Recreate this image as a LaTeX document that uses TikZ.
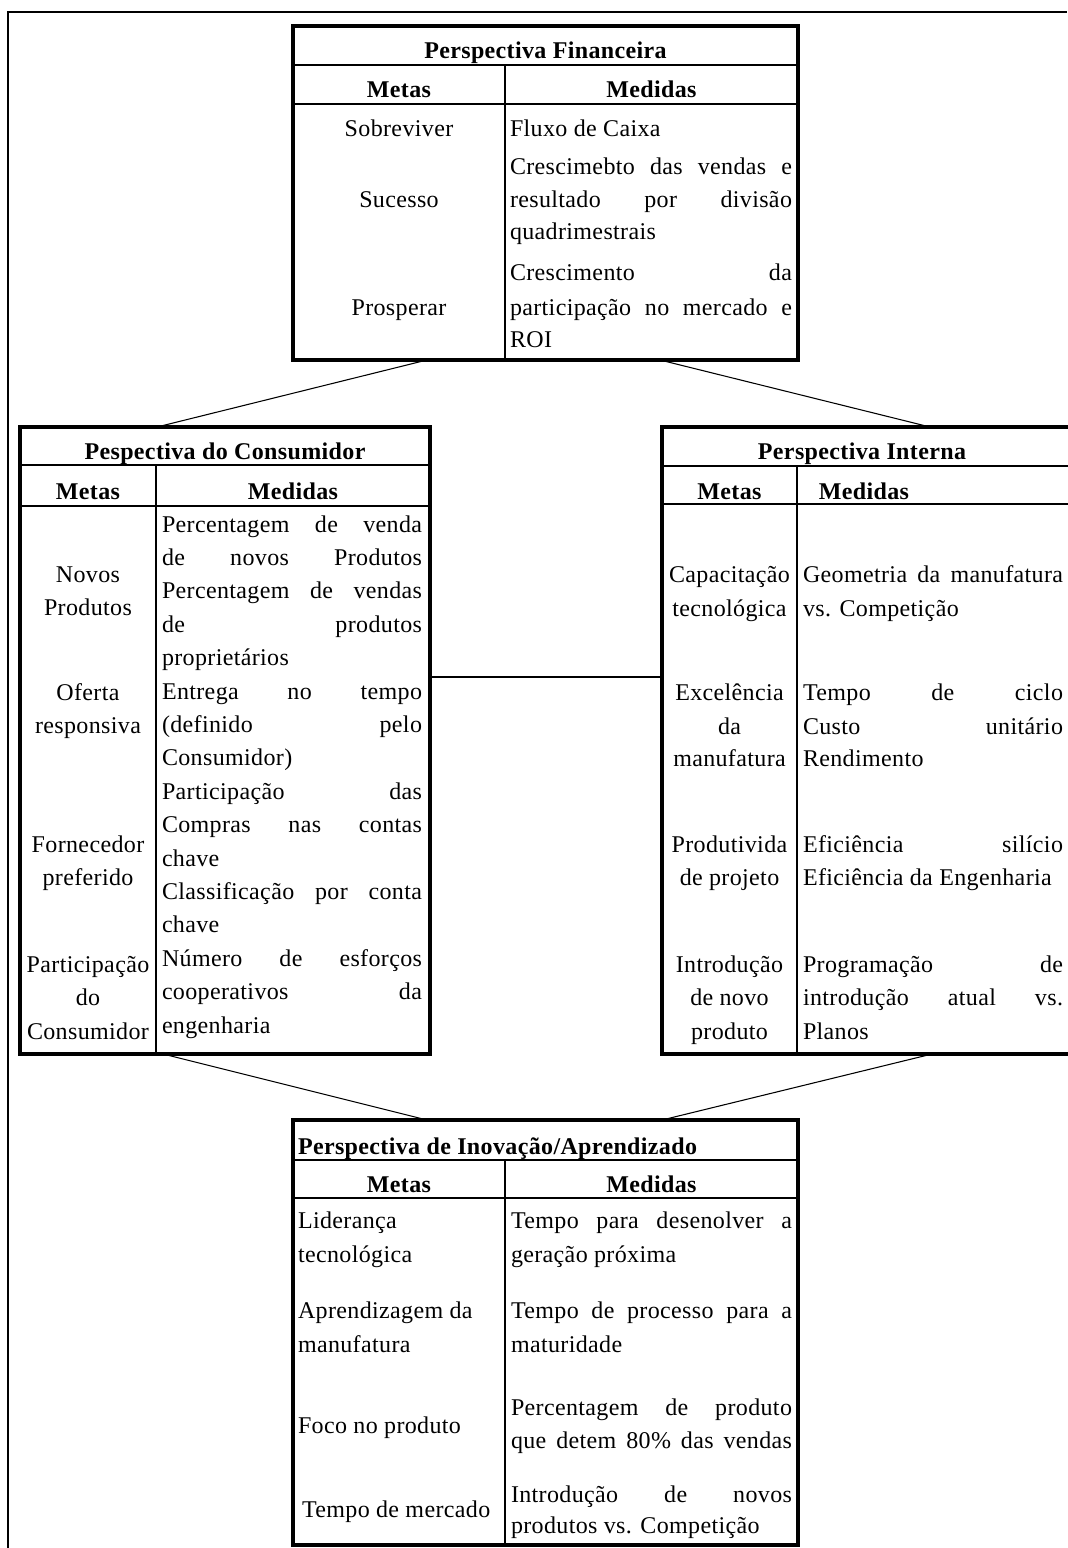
\documentclass[tikz,border=0pt]{standalone}
\usepackage{fontspec}
\setmainfont{Liberation Serif}[LetterSpace=1.5]
\usetikzlibrary{calc}
\newlength\pxu \setlength\pxu{0.75pt}
\tikzset{
  txt/.style={inner sep=0pt, outer sep=0pt, font=\fontsize{18}{20}\selectfont},
  hd/.style={inner sep=0pt, outer sep=0pt, font=\fontsize{18}{20}\selectfont\bfseries},
  tbl/.style={draw, line width=2.4pt, inner sep=0pt, outer sep=0pt, rectangle},
  gridline/.style={line width=2.1pt},
  conn/.style={line width=0.8pt},
  hconn/.style={line width=1.5pt},
  frameline/.style={line width=2.1pt}
}
\newcommand\Lt[4]{\node[txt, anchor=base west] (#1) at (#2,#3) {#4};}
\newcommand\Ct[4]{\node[txt, anchor=base] (#1) at (#2,#3) {#4};}
\newcommand\Jt[5]{\node[txt, anchor=base west] (#1) at (#2,#3) {\makebox[#4\pxu][s]{#5}};}
\newcommand\Hd[4]{\node[hd, anchor=base] (#1) at (#2,#3) {#4};}
\begin{document}
\begin{tikzpicture}[x=0.75pt, y=-0.75pt]
\useasboundingbox (0,0) rectangle (1067,1548);
% outer frame
\draw[frameline] (8,1548) -- (8,12) -- (1067,12);

% ---------- Perspectiva Financeira ----------
\node[tbl, anchor=north west, minimum width=505\pxu, minimum height=334\pxu] (fin) at (293,26) {};
\draw[gridline] (293,65) -- (798,65);
\draw[gridline] (293,104) -- (798,104);
\draw[gridline] (505,65) -- (505,360);
\Hd{ft}{545.5}{59}{Perspectiva Financeira}
\Hd{fm}{399}{98}{Metas}
\Hd{fd}{651.5}{98}{Medidas}
\Ct{fa1}{399}{137}{Sobreviver}
\Ct{fa2}{399}{208}{Sucesso}
\Ct{fa3}{399}{315}{Prosperar}
\Lt{fb1}{510}{137}{Fluxo de Caixa}
\Jt{fb2}{510}{175}{282}{Crescimebto das vendas e}
\Jt{fb3}{510}{208}{282}{resultado por divisão}
\Lt{fb4}{510}{240}{quadrimestrais}
\Jt{fb5}{510}{280}{282}{Crescimento da}
\Jt{fb6}{510}{315}{282}{participação no mercado e}
\Lt{fb7}{510}{347}{ROI}

% ---------- Pespectiva do Consumidor ----------
\node[tbl, anchor=north west, minimum width=410\pxu, minimum height=627\pxu] (con) at (20,427) {};
\draw[gridline] (20,465) -- (430,465);
\draw[gridline] (20,506) -- (430,506);
\draw[gridline] (156,465) -- (156,1054);
\Hd{ct}{225}{459}{Pespectiva do Consumidor}
\Hd{cm}{88}{499}{Metas}
\Hd{cd}{293}{499}{Medidas}
\Ct{ca1}{88}{582}{Novos}
\Ct{ca2}{88}{615}{Produtos}
\Ct{ca3}{88}{700}{Oferta}
\Ct{ca4}{88}{733}{responsiva}
\Ct{ca5}{88}{852}{Fornecedor}
\Ct{ca6}{88}{885}{preferido}
\Ct{ca7}{88}{972}{Participação}
\Ct{ca8}{88}{1005}{do}
\Ct{ca9}{88}{1039}{Consumidor}
\Jt{cb1}{162}{532}{260}{Percentagem de venda}
\Jt{cb2}{162}{565.4}{260}{de novos Produtos}
\Jt{cb3}{162}{598.8}{260}{Percentagem de vendas}
\Jt{cb4}{162}{632.2}{260}{de produtos}
\Lt{cb5}{162}{665.6}{proprietários}
\Jt{cb6}{162}{699}{260}{Entrega no tempo}
\Jt{cb7}{162}{732.4}{260}{(definido pelo}
\Lt{cb8}{162}{765.8}{Consumidor)}
\Jt{cb9}{162}{799.2}{260}{Participação das}
\Jt{cb10}{162}{832.6}{260}{Compras nas contas}
\Lt{cb11}{162}{866}{chave}
\Jt{cb12}{162}{899.4}{260}{Classificação por conta}
\Lt{cb13}{162}{932.8}{chave}
\Jt{cb14}{162}{966.2}{260}{Número de esforços}
\Jt{cb15}{162}{999.6}{260}{cooperativos da}
\Lt{cb16}{162}{1033}{engenharia}

% ---------- Perspectiva Interna ----------
\node[tbl, anchor=north west, minimum width=412\pxu, minimum height=627\pxu] (int) at (662,427) {};
\draw[gridline] (662,466) -- (1074,466);
\draw[gridline] (662,504) -- (1074,504);
\draw[gridline] (797,466) -- (797,1054);
\Hd{it}{862}{459}{Perspectiva Interna}
\Hd{im}{729.5}{499}{Metas}
\Hd{id}{864}{499}{Medidas}
\Ct{ia1}{729.5}{582}{Capacitação}
\Ct{ia2}{729.5}{616}{tecnológica}
\Ct{ia3}{729.5}{700}{Excelência}
\Ct{ia4}{729.5}{734}{da}
\Ct{ia5}{729.5}{766}{manufatura}
\Ct{ia6}{729.5}{852}{Produtivida}
\Ct{ia7}{729.5}{885}{de projeto}
\Ct{ia8}{729.5}{972}{Introdução}
\Ct{ia9}{729.5}{1005}{de novo}
\Ct{ia10}{729.5}{1039}{produto}
\Jt{ib1}{803}{582}{260}{Geometria da manufatura}
\Lt{ib2}{803}{616}{vs. Competição}
\Jt{ib3}{803}{700}{260}{Tempo de ciclo}
\Jt{ib4}{803}{734}{260}{Custo unitário}
\Lt{ib5}{803}{766}{Rendimento}
\Jt{ib6}{803}{852}{260}{Eficiência silício}
\Lt{ib7}{803}{885}{Eficiência da Engenharia}
\Jt{ib8}{803}{972}{260}{Programação de}
\Jt{ib9}{803}{1005}{260}{introdução atual vs.}
\Lt{ib10}{803}{1039}{Planos}

% ---------- Perspectiva de Inovacao/Aprendizado ----------
\node[tbl, anchor=north west, minimum width=505\pxu, minimum height=425\pxu] (ino) at (293,1120) {};
\draw[gridline] (293,1160) -- (798,1160);
\draw[gridline] (293,1198) -- (798,1198);
\draw[gridline] (505,1160) -- (505,1545);
\node[hd, anchor=base west] (nt) at (298,1154) {Perspectiva de Inovação/Aprendizado};
\Hd{nm}{399}{1192}{Metas}
\Hd{nd}{651.5}{1192}{Medidas}
\Lt{na1}{298}{1228}{Liderança}
\Lt{na2}{298}{1262}{tecnológica}
\Lt{na3}{298}{1318}{Aprendizagem da}
\Lt{na4}{298}{1352}{manufatura}
\Lt{na5}{298}{1433}{Foco no produto}
\Lt{na6}{302}{1517}{Tempo de mercado}
\Jt{nb1}{511}{1228}{281}{Tempo para desenolver a}
\Lt{nb2}{511}{1262}{geração próxima}
\Jt{nb3}{511}{1318}{281}{Tempo de processo para a}
\Lt{nb4}{511}{1352}{maturidade}
\Jt{nb5}{511}{1415}{281}{Percentagem de produto}
\Jt{nb6}{511}{1448}{281}{que detem 80\% das vendas}
\Jt{nb7}{511}{1502}{281}{Introdução de novos}
\Lt{nb8}{511}{1533}{produtos vs. Competição}

% ---------- connectors ----------
\draw[conn] ($(fin.south west)+(134,0)$) -- ($(con.north west)+(137,0)$);
\draw[conn] ($(fin.south west)+(367,0)$) -- ($(int.north west)+(268,0)$);
\draw[conn] ($(con.south west)+(143,0)$) -- ($(ino.north west)+(134,0)$);
\draw[conn] ($(int.south west)+(270,0)$) -- ($(ino.north west)+(369,0)$);
\draw[hconn] (con.east |- 0,677) -- (int.west |- 0,677);
\end{tikzpicture}
\end{document}
